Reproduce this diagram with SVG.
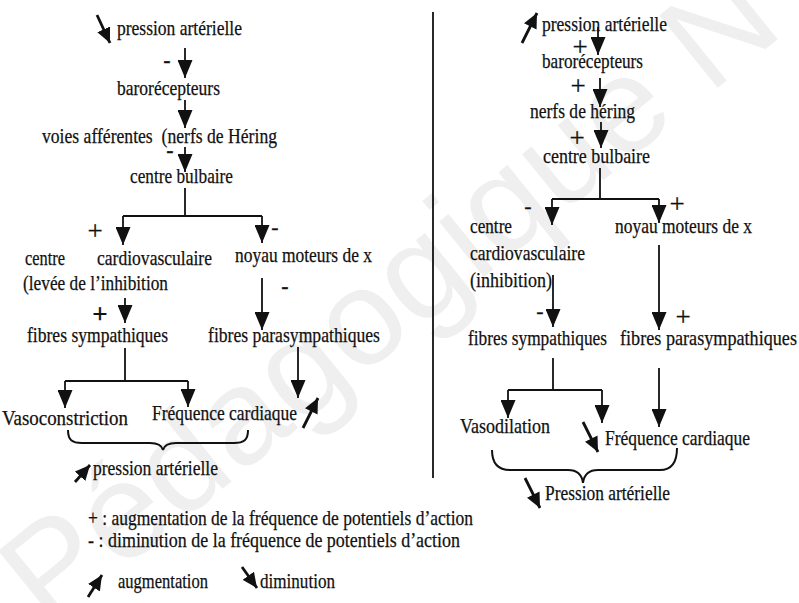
<svg xmlns="http://www.w3.org/2000/svg" width="799" height="603" viewBox="0 0 799 603">
<style>
text{font-family:"Liberation Serif","Times New Roman",serif;font-size:21px;fill:#111;stroke:#111;stroke-width:0.25;}
.wm{font-family:"Liberation Sans",Arial,sans-serif;font-size:135px;fill:#efefef;stroke:none;}
.sg{font-size:22px;text-anchor:middle;}
.pl{font-size:27px;text-anchor:middle;}
.b{font-weight:bold;}
.ln{stroke:#111;stroke-width:1.8;fill:none;}
.ar{marker-end:url(#ah);}
.tr{stroke:#111;stroke-width:2.8;fill:none;marker-end:url(#th);}
.br{stroke:#111;stroke-width:2;fill:none;}
.pre{white-space:pre;}
</style>
<defs>
<marker id="ah" markerUnits="userSpaceOnUse" markerWidth="19" markerHeight="15" refX="18" refY="7.5" orient="auto"><path d="M0,0 L18,7.5 L0,15 z" fill="#111"/></marker>
<marker id="th" markerUnits="userSpaceOnUse" markerWidth="16" markerHeight="14" refX="15" refY="7" orient="auto"><path d="M0,0 L15,7 L0,14 z" fill="#111"/></marker>
</defs>
<rect width="799" height="603" fill="#fff"/>
<text class="wm" transform="translate(48,630) rotate(-39)" textLength="950" lengthAdjust="spacingAndGlyphs">Pédagogique N</text>

<g id="left-nodes">
<g id="l-pa1"><text x="117" y="35" textLength="125" lengthAdjust="spacingAndGlyphs">pression artérielle</text></g>
<g id="l-baro"><text x="117" y="95" textLength="103" lengthAdjust="spacingAndGlyphs">barorécepteurs</text></g>
<g id="l-voies"><text class="pre" x="42" y="143" textLength="235" lengthAdjust="spacingAndGlyphs">voies afférentes  (nerfs de Héring</text></g>
<g id="l-bulb"><text x="130" y="183" textLength="103" lengthAdjust="spacingAndGlyphs">centre bulbaire</text></g>
<g id="l-cv"><text x="25" y="265" textLength="40" lengthAdjust="spacingAndGlyphs">centre</text><text x="97" y="265" textLength="115" lengthAdjust="spacingAndGlyphs">cardiovasculaire</text><text x="23" y="290" textLength="145" lengthAdjust="spacingAndGlyphs">(levée de l’inhibition</text></g>
<g id="l-noyau"><text x="235" y="262" textLength="137" lengthAdjust="spacingAndGlyphs">noyau moteurs de x</text></g>
<g id="l-symp"><text x="27" y="342" textLength="141" lengthAdjust="spacingAndGlyphs">fibres sympathiques</text></g>
<g id="l-para"><text x="208" y="342" textLength="172" lengthAdjust="spacingAndGlyphs">fibres parasympathiques</text></g>
<g id="l-vaso"><text x="2" y="425" textLength="126" lengthAdjust="spacingAndGlyphs">Vasoconstriction</text></g>
<g id="l-freq"><text x="152" y="420" textLength="145" lengthAdjust="spacingAndGlyphs">Fréquence cardiaque</text></g>
<g id="l-pa2"><text x="93" y="475" textLength="125" lengthAdjust="spacingAndGlyphs">pression artérielle</text></g>
</g>

<g id="right-nodes">
<g id="r-pa1"><text x="542" y="31" textLength="125" lengthAdjust="spacingAndGlyphs">pression artérielle</text></g>
<g id="r-baro"><text x="542" y="68" textLength="101" lengthAdjust="spacingAndGlyphs">barorécepteurs</text></g>
<g id="r-nerfs"><text x="530" y="118" textLength="105" lengthAdjust="spacingAndGlyphs">nerfs de héring</text></g>
<g id="r-bulb"><text x="543" y="163" textLength="107" lengthAdjust="spacingAndGlyphs">centre bulbaire</text></g>
<g id="r-cv"><text x="470" y="233" textLength="42" lengthAdjust="spacingAndGlyphs">centre</text><text x="470" y="260" textLength="115" lengthAdjust="spacingAndGlyphs">cardiovasculaire</text><text x="470" y="287" textLength="82" lengthAdjust="spacingAndGlyphs">(inhibition)</text></g>
<g id="r-noyau"><text x="615" y="233" textLength="137" lengthAdjust="spacingAndGlyphs">noyau moteurs de x</text></g>
<g id="r-symp"><text x="468" y="345" textLength="139" lengthAdjust="spacingAndGlyphs">fibres sympathiques</text></g>
<g id="r-para"><text x="620" y="345" textLength="177" lengthAdjust="spacingAndGlyphs">fibres parasympathiques</text></g>
<g id="r-vaso"><text x="460" y="433" textLength="90" lengthAdjust="spacingAndGlyphs">Vasodilation</text></g>
<g id="r-freq"><text x="605" y="445" textLength="145" lengthAdjust="spacingAndGlyphs">Fréquence cardiaque</text></g>
<g id="r-pa2"><text x="545" y="500" textLength="125" lengthAdjust="spacingAndGlyphs">Pression artérielle</text></g>
</g>

<g id="legend">
<text x="88" y="525" textLength="385" lengthAdjust="spacingAndGlyphs">+ : augmentation de la fréquence de potentiels d’action</text>
<text x="88" y="547" textLength="372" lengthAdjust="spacingAndGlyphs">- : diminution de la fréquence de potentiels d’action</text>
<line class="tr" x1="88" y1="597" x2="102" y2="575"/>
<text x="118" y="588" textLength="90" lengthAdjust="spacingAndGlyphs">augmentation</text>
<line class="tr" x1="242" y1="567" x2="257" y2="588"/>
<text x="260" y="588" textLength="75" lengthAdjust="spacingAndGlyphs">diminution</text>
</g>

<g id="connectors">
<line class="ln" x1="433" y1="12" x2="433" y2="478"/>
<line class="ln ar" x1="185" y1="48" x2="185" y2="78"/>
<line class="ln ar" x1="185" y1="100" x2="185" y2="128"/>
<line class="ln ar" x1="185" y1="147" x2="185" y2="172"/>
<line class="ln" x1="185" y1="188" x2="185" y2="216"/>
<line class="ln" x1="123" y1="216" x2="262" y2="216"/>
<line class="ln ar" x1="123" y1="216" x2="123" y2="245"/>
<line class="ln ar" x1="262" y1="216" x2="262" y2="243"/>
<line class="ln ar" x1="125" y1="298" x2="125" y2="323"/>
<line class="ln ar" x1="262" y1="278" x2="262" y2="330"/>
<line class="ln" x1="125" y1="348" x2="125" y2="381"/>
<line class="ln" x1="65" y1="381" x2="188" y2="381"/>
<line class="ln ar" x1="65" y1="381" x2="65" y2="408"/>
<line class="ln ar" x1="188" y1="381" x2="188" y2="407"/>
<line class="ln ar" x1="298" y1="347" x2="298" y2="398"/>
<path class="br" d="M68,430 C68,440 72,443 82,443 L150,443 C158,443 162,446 163,450 C164,446 168,443 176,443 L234,443 C244,443 248,440 248,430"/>
<line class="tr" x1="97" y1="15" x2="110" y2="43"/>
<line class="tr" x1="303" y1="428" x2="318" y2="398"/>
<line class="tr" x1="75" y1="482" x2="90" y2="465"/>
<line class="ln ar" x1="598" y1="27" x2="598" y2="55"/>
<line class="ln ar" x1="600" y1="78" x2="600" y2="107"/>
<line class="ln ar" x1="601" y1="122" x2="601" y2="148"/>
<line class="ln" x1="600" y1="168" x2="600" y2="199"/>
<line class="ln" x1="552" y1="199" x2="659" y2="199"/>
<line class="ln ar" x1="552" y1="199" x2="552" y2="225"/>
<line class="ln ar" x1="659" y1="199" x2="659" y2="223"/>
<line class="ln ar" x1="553" y1="275" x2="553" y2="327"/>
<line class="ln ar" x1="659" y1="245" x2="659" y2="330"/>
<line class="ln" x1="553" y1="358" x2="553" y2="390"/>
<line class="ln" x1="508" y1="390" x2="602" y2="390"/>
<line class="ln ar" x1="508" y1="390" x2="508" y2="418"/>
<line class="ln ar" x1="602" y1="390" x2="602" y2="423"/>
<line class="ln ar" x1="659" y1="368" x2="659" y2="427"/>
<path class="br" d="M492,450 C492,464 498,470 510,470 L568,470 C577,470 582,475 583,483 C584,475 589,470 598,470 L660,470 C672,470 677,462 677,448"/>
<line class="tr" x1="522" y1="43" x2="537" y2="13"/>
<line class="tr" x1="583" y1="422" x2="598" y2="452"/>
<line class="tr" x1="525" y1="478" x2="540" y2="508"/>
</g>

<g id="signs">
<text class="sg b" x="167" y="67">-</text>
<text class="sg b" x="170" y="157">-</text>
<text class="pl" x="95" y="240">+</text>
<text class="sg" x="275" y="234">-</text>
<text class="pl b" x="100" y="323">+</text>
<text class="sg b" x="285" y="293">-</text>
<text class="pl" x="580" y="56">+</text>
<text class="pl" x="578" y="95">+</text>
<text class="pl" x="577" y="147">+</text>
<text class="sg" x="528" y="213">-</text>
<text class="pl" x="677" y="213">+</text>
<text class="sg" x="540" y="318">-</text>
<text class="pl" x="683" y="326">+</text>
</g>
</svg>
